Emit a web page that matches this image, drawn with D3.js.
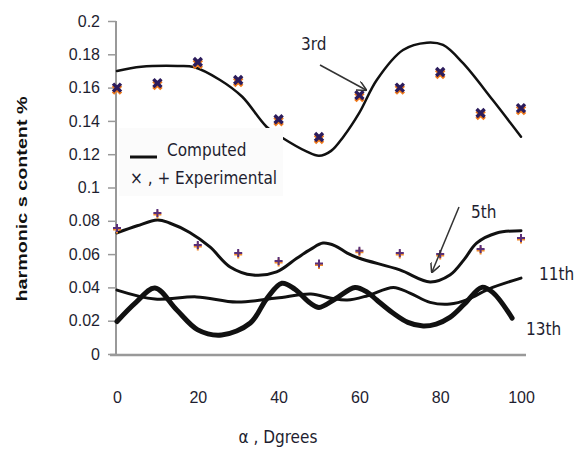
<!DOCTYPE html>
<html>
<head>
<meta charset="utf-8">
<script src="https://cdn.jsdelivr.net/npm/d3@7"></script>
<style>
  body { margin: 0; background: #fff; }
  svg { display: block; font-family: "Liberation Sans Narrow", "DejaVu Sans Condensed", "Liberation Sans", sans-serif; }
</style>
</head>
<body>
<svg id="chart" width="582" height="450"></svg>
<script>
// ticks
const xTicks = [0, 20, 40, 60, 80, 100];
const yTicks = [0, 0.02, 0.04, 0.06, 0.08, 0.1, 0.12, 0.14, 0.16, 0.18, 0.2];

// experimental angles
const alphas = [0, 10, 20, 30, 40, 50, 60, 70, 80, 90, 100];
// 3rd harmonic, measured (x and +)
const exp3 = [0.160, 0.1627, 0.1754, 0.1646, 0.141, 0.1303, 0.1555, 0.160, 0.1694, 0.1447, 0.1477];
// 5th harmonic, measured (+)
const exp5 = [0.0757, 0.0847, 0.0655, 0.0607, 0.0559, 0.0543, 0.062, 0.0607, 0.060, 0.063, 0.0697];

// computed curves, points [alpha, value]
const comp3 = [[0, 0.170], [6, 0.1725], [15, 0.173], [19, 0.1724], [25.5, 0.1646], [31, 0.1545], [37, 0.1365],
  [41, 0.1297], [47, 0.1215], [50, 0.119], [53, 0.122], [56, 0.1304], [60, 0.145], [64.3, 0.1646],
  [70.8, 0.1826], [76.7, 0.187], [80.7, 0.1856], [85.6, 0.1748], [93, 0.1525], [100, 0.1305]];
const comp5 = [[0, 0.0727], [5, 0.077], [10, 0.0805], [13, 0.0787], [18, 0.073], [23, 0.0643], [28, 0.0523],
  [33.7, 0.0474], [39.5, 0.0493], [44.5, 0.0575], [48, 0.063], [51, 0.0666], [54, 0.065], [57, 0.0606],
  [60, 0.0575], [70, 0.0505], [77.5, 0.0433], [82.4, 0.0474], [86, 0.057], [89, 0.0666], [94, 0.0727], [100, 0.074]];
const comp11 = [[0, 0.0384], [9.4, 0.033], [19.7, 0.0343], [29.6, 0.0312], [39.5, 0.0336], [48, 0.036],
  [53, 0.0335], [57, 0.0324], [62, 0.035], [68.4, 0.040], [72.5, 0.0366], [77.5, 0.031], [82.4, 0.030],
  [87, 0.033], [92, 0.039], [100, 0.0456]];
const comp13 = [[0, 0.0195], [4.7, 0.031], [9.4, 0.0396], [14.8, 0.0264], [20, 0.0145], [25.9, 0.0114],
  [33, 0.0186], [37, 0.033], [40.8, 0.0425], [44, 0.039], [47.8, 0.0306], [50, 0.028], [54, 0.033],
  [58.9, 0.040], [62, 0.037], [64.3, 0.0324], [68.3, 0.0246], [72, 0.019], [75.8, 0.0168], [79, 0.018],
  [82.4, 0.022], [86, 0.030], [90.3, 0.040], [93, 0.037], [97.8, 0.0216]];

const svg = d3.select('#chart');
const x = d3.scaleLinear().domain([0, 100]).range([117, 521]);
const y = d3.scaleLinear().domain([0, 0.2]).range([354, 21]);
const textColor = '#1e1e30';

// axes (Excel style: grey lines, ticks only on y)
const yAxis = svg.append('g')
  .attr('transform', `translate(${x(0) - 1},0)`)
  .call(d3.axisLeft(y).tickValues(yTicks).tickSize(8).tickPadding(8).tickFormat(d => d3.format('')(+d.toFixed(2))));
yAxis.select('.domain').attr('stroke', '#999').attr('stroke-width', 2).attr('d', `M0,${y(0.2)}V${y(0) + 1}`);
yAxis.selectAll('.tick line').attr('stroke', '#999').attr('stroke-width', 1.5);
yAxis.selectAll('.tick text').attr('fill', textColor).style('font-size', '16px');

const xAxis = svg.append('g')
  .attr('transform', `translate(0,${y(0) + 1})`)
  .call(d3.axisBottom(x).tickValues(xTicks).tickSize(0).tickPadding(37));
xAxis.select('.domain').attr('stroke', '#999').attr('stroke-width', 2.5).attr('d', `M110,0H526`);
xAxis.selectAll('.tick text').attr('fill', textColor).style('font-size', '16px');

// computed curves
const line = d3.line().x(d => x(d[0])).y(d => y(d[1])).curve(d3.curveCatmullRom.alpha(0.5));
const curves = [
  { data: comp3, w: 2.5 },
  { data: comp5, w: 3 },
  { data: comp11, w: 3 },
  { data: comp13, w: 5 }
];
svg.append('g').selectAll('path').data(curves).join('path')
  .attr('d', d => line(d.data))
  .attr('fill', 'none')
  .attr('stroke', '#111')
  .attr('stroke-width', d => d.w)
  .attr('stroke-linecap', 'round');

// experimental markers
const crossPath = s => `M${-s},${-s}L${s},${s}M${-s},${s}L${s},${-s}`;
const plusPath = s => `M${-s},0H${s}M0,${-s}V${s}`;
const m3 = svg.append('g');
m3.selectAll('path.o').data(alphas).join('path').attr('class', 'o')
  .attr('transform', (d, i) => `translate(${x(d)},${y(exp3[i]) + 2})`)
  .attr('d', crossPath(4)).attr('stroke', '#f07a1a').attr('stroke-width', 3.4).attr('fill', 'none');
m3.selectAll('path.n').data(alphas).join('path').attr('class', 'n')
  .attr('transform', (d, i) => `translate(${x(d)},${y(exp3[i])})`)
  .attr('d', crossPath(4)).attr('stroke', '#2c1c5c').attr('stroke-width', 3.4).attr('fill', 'none');
const m5 = svg.append('g');
m5.selectAll('path.o').data(alphas).join('path').attr('class', 'o')
  .attr('transform', (d, i) => `translate(${x(d)},${y(exp5[i]) + 1.5})`)
  .attr('d', plusPath(4)).attr('stroke', '#f08a2a').attr('stroke-width', 2).attr('fill', 'none');
m5.selectAll('path.n').data(alphas).join('path').attr('class', 'n')
  .attr('transform', (d, i) => `translate(${x(d)},${y(exp5[i])})`)
  .attr('d', plusPath(4)).attr('stroke', '#5a2f78').attr('stroke-width', 2).attr('fill', 'none');

// legend
const leg = svg.append('g');
leg.append('rect').attr('x', 119).attr('y', 128).attr('width', 164).attr('height', 68).attr('fill', '#fbfbfb');
leg.append('line').attr('x1', 130).attr('x2', 157).attr('y1', 157).attr('y2', 157).attr('stroke', '#111').attr('stroke-width', 3);
leg.append('text').attr('x', 167).attr('y', 156).attr('fill', textColor).style('font-size', '17px').text('Computed');
leg.append('text').attr('x', 130).attr('y', 184).attr('fill', textColor).style('font-size', '17px').text('× , + Experimental');

// harmonic labels and arrows
svg.append('defs').append('marker').attr('id', 'arr').attr('viewBox', '0 0 10 10')
  .attr('refX', 9).attr('refY', 5).attr('markerWidth', 10).attr('markerHeight', 10)
  .attr('markerUnits', 'userSpaceOnUse').attr('orient', 'auto')
  .append('path').attr('d', 'M0,0L10,5L0,10').attr('fill', 'none').attr('stroke', '#333').attr('stroke-width', 1.5);
svg.append('line').attr('x1', 320).attr('y1', 65).attr('x2', 366).attr('y2', 90)
  .attr('stroke', '#333').attr('stroke-width', 1.5).attr('marker-end', 'url(#arr)');
svg.append('line').attr('x1', 459).attr('y1', 207).attr('x2', 432).attr('y2', 272)
  .attr('stroke', '#333').attr('stroke-width', 1.5).attr('marker-end', 'url(#arr)');
const labels = [
  { t: '3rd', x: 301, y: 50 },
  { t: '5th', x: 471, y: 218 },
  { t: '11th', x: 539, y: 280 },
  { t: '13th', x: 526, y: 335 }
];
svg.append('g').selectAll('text').data(labels).join('text')
  .attr('x', d => d.x).attr('y', d => d.y).attr('fill', textColor).style('font-size', '17px').text(d => d.t);

// axis titles
svg.append('text').attr('x', 278).attr('y', 443).attr('text-anchor', 'middle')
  .attr('fill', textColor).style('font-size', '17px').text('α , Dgrees');
svg.append('text').attr('transform', 'translate(27,199) rotate(-90)').attr('text-anchor', 'middle')
  .attr('fill', '#111').style('font-size', '15px').style('font-weight', 'bold')
  .style('font-family', '"Liberation Sans", sans-serif')
  .attr('textLength', 205).attr('lengthAdjust', 'spacingAndGlyphs')
  .text('harmonic s content %');
</script>
</body>
</html>
